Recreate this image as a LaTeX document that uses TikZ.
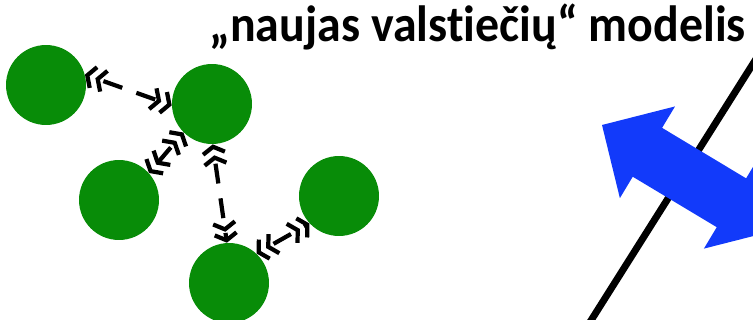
\documentclass[tikz,border=0pt]{standalone}
\usepackage{fontspec}
\setmainfont{Carlito}[Ligatures=NoCommon]
\usepackage{xcolor}
\usetikzlibrary{arrows.meta}

\definecolor{cellgreen}{RGB}{8,140,8}
\definecolor{arrowblue}{RGB}{18,58,250}

\begin{document}
\begin{tikzpicture}[x=0.02cm,y=-0.02cm,
  cell/.style={circle,fill=cellgreen,minimum size=1.6cm,inner sep=0pt},
  link/.style={line width=2.4pt,dash pattern=on 0.4cm off 0.3cm,dash phase=0.4cm,
    >={Straight Barb[length=1.3mm,width=4.4mm]},<<->>}]
\clip (0,0) rectangle (753,320);

\node[anchor=base west,inner sep=0pt,xscale=0.94,transform shape,
  font=\bfseries\fontsize{29}{29}\selectfont] (title) at (209,42) {„naujas valstiečių“ modelis};

\node[cell] (c1) at (46,85) {};
\node[cell] (c2) at (212,104) {};
\node[cell] (c3) at (119,200) {};
\node[cell] (c4) at (339,196) {};
\node[cell] (c5) at (229,283) {};

\draw[link] (c1.15) -- (c2.182);
\draw[link] (c2.225) -- (c3.42);
\draw[link] (c2.271) -- (c5.93);
\draw[link] (c5.47) -- (c4.223);

% border line and the exchange across it
\draw[line width=0.14cm] (585,330) -- (768,40);
\begin{scope}[shift={(602,125)},rotate=-31]
\fill[arrowblue] (0,0) -- (53,-53.5) -- (53,-28.5) -- (151,-28.5) -- (151,-53.5)
  -- (204,0) -- (151,53.5) -- (151,28.5) -- (53,28.5) -- (53,53.5) -- cycle;
\end{scope}
\end{tikzpicture}
\end{document}
